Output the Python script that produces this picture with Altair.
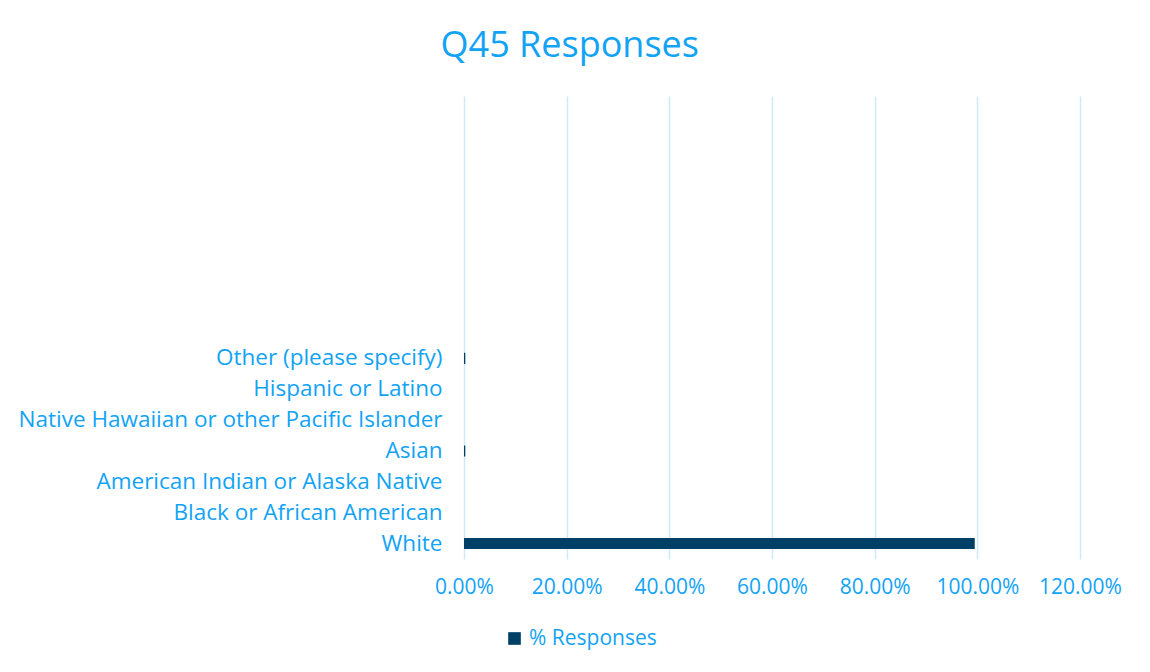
import altair as alt
import pandas as pd

categories = [
    "Other (please specify)",
    "Hispanic or Latino",
    "Native Hawaiian or other Pacific Islander",
    "Asian",
    "American Indian or Alaska Native",
    "Black or African American",
    "White",
]
values = [0.0025, 0.0, 0.0, 0.0025, 0.0, 0.0, 0.995]
blank_slots = ["_b1", "_b2", "_b3", "_b4", "_b5", "_b6", "_b7", "_b8"]
x_ticks = [0, 0.2, 0.4, 0.6, 0.8, 1.0, 1.2]

df = pd.DataFrame({"category": categories, "value": values, "series": "% Responses"})

TEXT = "#12a3f5"
FONT = "Open Sans"

chart = (
    alt.Chart(df)
    .mark_bar(color="#003f66")
    .encode(
        x=alt.X(
            "value:Q",
            scale=alt.Scale(domain=[0, 1.2], nice=False),
            axis=alt.Axis(
                values=x_ticks,
                format=".2%",
                title=None,
                grid=True,
                gridColor="#cde9fb",
                gridWidth=1.5,
                domain=False,
                ticks=False,
                labelPadding=17,
                labelFontSize=21,
                labelColor=TEXT,
                labelFont=FONT,
                labelOverlap=False,
                labelAlign="center",
                labelFlush=False,
            ),
        ),
        y=alt.Y(
            "category:N",
            scale=alt.Scale(domain=blank_slots + categories, paddingInner=0.64, paddingOuter=0.32),
            axis=alt.Axis(
                title=None,
                domain=False,
                ticks=False,
                grid=False,
                labelPadding=22,
                labelFontSize=22.5,
                labelColor=TEXT,
                labelFont=FONT,
                labelLimit=0,
                labelExpr="indexof(datum.value, '_b') == 0 ? '' : datum.value",
            ),
        ),
        color=alt.Color(
            "series:N",
            scale=alt.Scale(range=["#003f66"]),
            legend=alt.Legend(
                title=None,
                orient="none",
                legendX=40,
                legendY=532,
                symbolType="square",
                symbolSize=160,
                labelFontSize=21,
                labelColor=TEXT,
                labelFont=FONT,
            ),
        ),
    )
    .properties(
        width=616,
        height=463,
        title=alt.TitleParams(
            "Q45 Responses",
            fontSize=36,
            font=FONT,
            fontWeight="normal",
            color=TEXT,
            anchor="middle",
            frame="bounds",
            offset=31,
        ),
        padding={"left": 10, "top": 20, "right": 10, "bottom": 10},
    )
    .configure(background="white")
    .configure_view(strokeWidth=0, stroke="transparent")
)

chart.save("out.html", embed_options={"renderer": "svg", "actions": False})
